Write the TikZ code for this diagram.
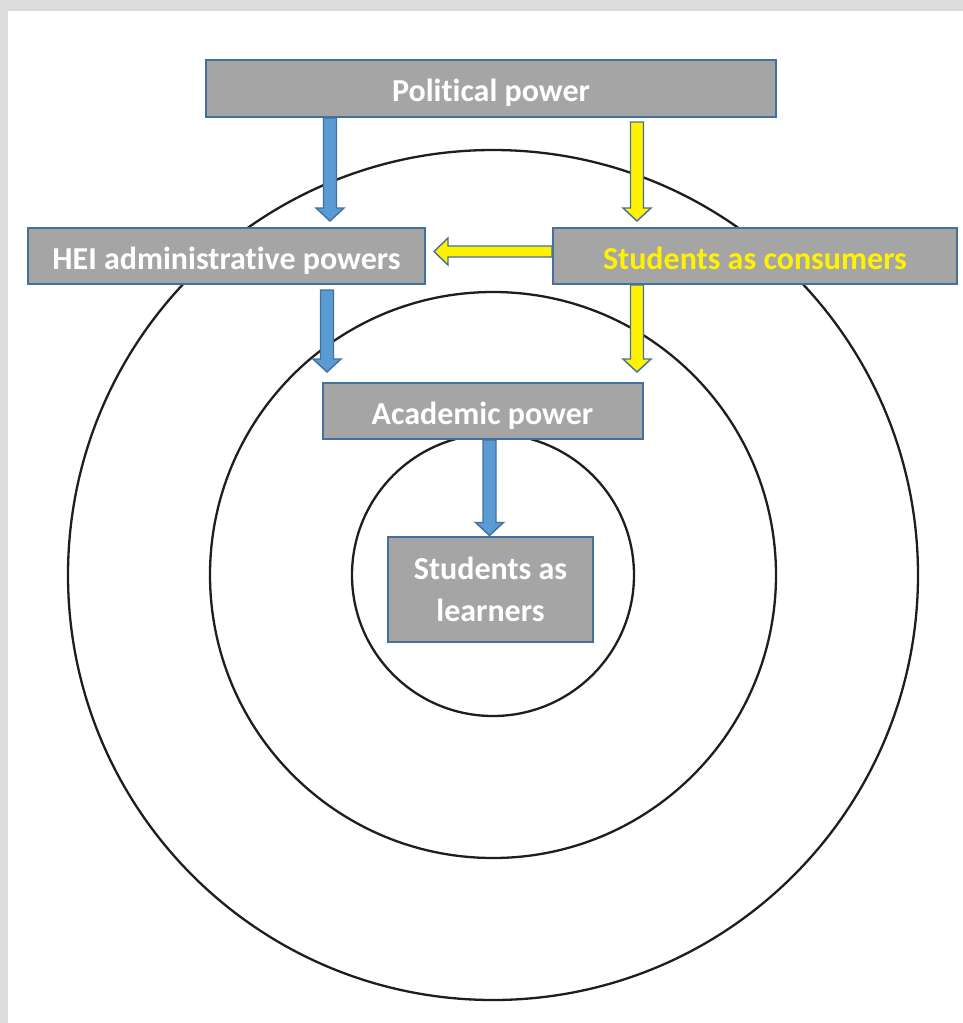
\documentclass[tikz,border=0pt]{standalone}
\usepackage{fontspec}
\setmainfont{Carlito}[Ligatures=NoCommon]
\usetikzlibrary{calc}
\definecolor{boxgrey}{HTML}{A5A5A5}
\definecolor{edgeblue}{HTML}{41719C}
\definecolor{arrowblue}{HTML}{5B9BD5}
\definecolor{frame}{HTML}{DCDCDC}
\definecolor{ring}{HTML}{1E1E1E}
\tikzset{
  powerbox/.style={draw=edgeblue, line width=2pt, fill=boxgrey, inner sep=0pt, text=white, font=\fontsize{32}{38}\selectfont\bfseries, align=center},
  oneline/.style={text height=26pt, text depth=0pt},
  bluearrow/.style={draw=edgeblue, line width=1.4pt, fill=arrowblue, line join=miter},
  yellowarrow/.style={draw=edgeblue, line width=1.4pt, fill=yellow, line join=miter},
  ringline/.style={draw=ring, line width=2.3pt}
}
% vertical block arrow: #1 x (px), #2 start point, #3 tip point, #4 style
\newcommand\vblock[4]{%
  \path[#4] let \p1=#2, \p2=#3, \p3=(#1,0) in
    (\x3-6.5pt,\y1) -- (\x3+6.5pt,\y1) -- (\x3+6.5pt,\y2+13pt) -- (\x3+14pt,\y2+13pt)
    -- (\x3,\y2) -- (\x3-14pt,\y2+13pt) -- (\x3-6.5pt,\y2+13pt) -- cycle;}
% horizontal block arrow pointing left: #1 y (px), #2 start point, #3 tip point, #4 style
\newcommand\hblockleft[4]{%
  \path[#4] let \p1=#2, \p2=#3, \p3=(0,#1) in
    (\x1,\y3+5.5pt) -- (\x2+14pt,\y3+5.5pt) -- (\x2+14pt,\y3+13.5pt) -- (\x2,\y3)
    -- (\x2+14pt,\y3-13.5pt) -- (\x2+14pt,\y3-5.5pt) -- (\x1,\y3-5.5pt) -- cycle;}
\begin{document}
\begin{tikzpicture}[x=1pt,y=-1pt]
\useasboundingbox (0,0) rectangle (963,1023);
\fill[white] (0,0) rectangle (963,1023);
\fill[frame] (0,0) rectangle (963,11);
\fill[frame] (0,0) rectangle (8,1023);
% rings
\draw[ringline] (493,575) circle[radius=425];
\draw[ringline] (493,575) circle[radius=283];
\draw[ringline] (493,575) circle[radius=141];
% boxes
\node[powerbox, oneline, minimum width=570, minimum height=57] (pp) at (491,88.5) {Political power};
\node[powerbox, oneline, minimum width=397, minimum height=56] (hei) at (226.5,256) {HEI administrative powers};
\node[powerbox, oneline, minimum width=404, minimum height=56, text=yellow] (sc) at (755,256) {Students as consumers};
\node[powerbox, oneline, minimum width=320, minimum height=56] (ap) at (482.5,411) {Academic power};
\node[powerbox, minimum width=205, minimum height=105, font=\fontsize{32}{42}\selectfont\bfseries] (sl) at (490.5,589) {Students as\\learners};
% arrows
\vblock{330}{(pp.south)}{([yshift=6pt]hei.north)}{bluearrow}
\vblock{637}{([yshift=-4pt]pp.south)}{([yshift=6pt]sc.north)}{yellowarrow}
\hblockleft{251.5}{(sc.west)}{([xshift=8pt]hei.east)}{yellowarrow}
\vblock{327}{([yshift=-5pt]hei.south)}{([yshift=10pt]ap.north)}{bluearrow}
\vblock{637}{(sc.south)}{([yshift=10pt]ap.north)}{yellowarrow}
\vblock{489.5}{(ap.south)}{(sl.north)}{bluearrow}
\end{tikzpicture}
\end{document}
